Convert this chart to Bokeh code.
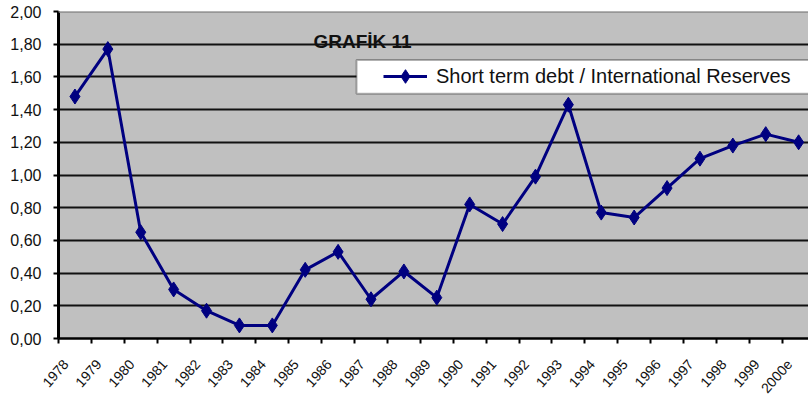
from bokeh.plotting import figure
from bokeh.models import (FixedTicker, CustomJSTickFormatter, LinearAxis, Range1d,
                          Span, Label, Legend, LegendItem, BoxAnnotation)
from bokeh.embed import file_html
from bokeh.resources import INLINE

# ---- data ----
years = ["1978", "1979", "1980", "1981", "1982", "1983", "1984", "1985", "1986",
         "1987", "1988", "1989", "1990", "1991", "1992", "1993", "1994", "1995",
         "1996", "1997", "1998", "1999", "2000e"]
ratio = [1.48, 1.77, 0.65, 0.30, 0.17, 0.08, 0.08, 0.42, 0.53, 0.24, 0.41, 0.25,
         0.82, 0.70, 0.99, 1.43, 0.77, 0.74, 0.92, 1.10, 1.18, 1.25, 1.20]
y_ticks = [0.0, 0.2, 0.4, 0.6, 0.8, 1.0, 1.2, 1.4, 1.6, 1.8, 2.0]
series_name = "Short term debt / International Reserves"
chart_title = "GRAFİK 11"

FONT = "Liberation Sans"
NAVY = "#000080"

xs = [i + 0.5 for i in range(len(years))]
label_ticks = [i + 0.22 for i in range(len(years))]

p = figure(width=808, height=400, output_backend="svg", toolbar_location=None,
           x_range=Range1d(0, 22.8), y_range=Range1d(0, 2.0),
           min_border_left=58, min_border_right=0, min_border_top=11, min_border_bottom=61,
           background_fill_color="#C0C0C0", border_fill_color="white",
           outline_line_color=None)

# grid
p.xgrid.visible = False
p.ygrid.ticker = FixedTicker(ticks=y_ticks[1:-1])
p.ygrid.grid_line_color = "#111111"
p.ygrid.grid_line_width = 2

# top border of plot area
p.add_layout(Span(location=2.0, dimension="width", line_color="#888888", line_width=2.5))

# y axis
p.yaxis.ticker = FixedTicker(ticks=y_ticks)
p.yaxis.formatter = CustomJSTickFormatter(code="return tick.toFixed(2).replace('.', ',');")
p.yaxis.axis_line_width = 3
p.yaxis.axis_line_color = "black"
p.yaxis.major_tick_line_width = 2
p.yaxis.major_tick_out = 5
p.yaxis.major_tick_in = 0
p.yaxis.minor_tick_line_color = None
p.yaxis.major_label_standoff = 12
p.yaxis.major_label_text_font = FONT
p.yaxis.major_label_text_font_size = "16px"
p.yaxis.major_label_text_color = "#111111"

# x axis: tick marks on category boundaries
xa = p.xaxis[0]
xa.ticker = FixedTicker(ticks=list(range(len(years) + 1)))
xa.formatter = CustomJSTickFormatter(code="return '';")
xa.major_label_text_font_size = "1px"
xa.major_label_standoff = -6
xa.axis_line_width = 2.5
xa.axis_line_color = "black"
xa.major_tick_line_width = 2
xa.major_tick_out = 5
xa.major_tick_in = 0
xa.minor_tick_line_color = None

# x axis: category labels
lab_axis = LinearAxis(ticker=FixedTicker(ticks=label_ticks),
                      formatter=CustomJSTickFormatter(args=dict(labels=years),
                                                      code="return labels[Math.floor(tick)] ?? '';"))
lab_axis.axis_line_color = None
lab_axis.major_tick_line_color = None
lab_axis.minor_tick_line_color = None
lab_axis.major_tick_out = 0
lab_axis.major_label_orientation = 0.85
lab_axis.major_label_standoff = 18
lab_axis.major_label_text_font = FONT
lab_axis.major_label_text_font_size = "14px"
lab_axis.major_label_text_color = "#111111"
p.add_layout(lab_axis, "below")

# data
ln = p.line(xs, ratio, line_color=NAVY, line_width=3)
sc = p.scatter(xs, ratio, marker="diamond", size=15, fill_color=NAVY, line_color=NAVY)

# legend box
p.add_layout(BoxAnnotation(left=9.06, right=23.5, top=1.704, bottom=1.497,
                           fill_color="white", fill_alpha=1.0,
                           line_color="black", line_width=2))

legend = Legend(items=[LegendItem(label=series_name, renderers=[ln, sc])],
                location=(325, 245), margin=0, padding=0, border_line_color=None,
                background_fill_alpha=0, glyph_width=44, glyph_height=34,
                label_standoff=9, label_text_font=FONT, label_text_font_size="20px",
                label_text_color="#111111")
p.add_layout(legend)

# chart title inside plot
p.add_layout(Label(x=7.75, y=1.814, text=chart_title, text_font=FONT,
                   text_font_style="bold", text_font_size="19px",
                   text_color="#111111", text_baseline="middle"))

open("out.html", "w").write(file_html(p, INLINE))
